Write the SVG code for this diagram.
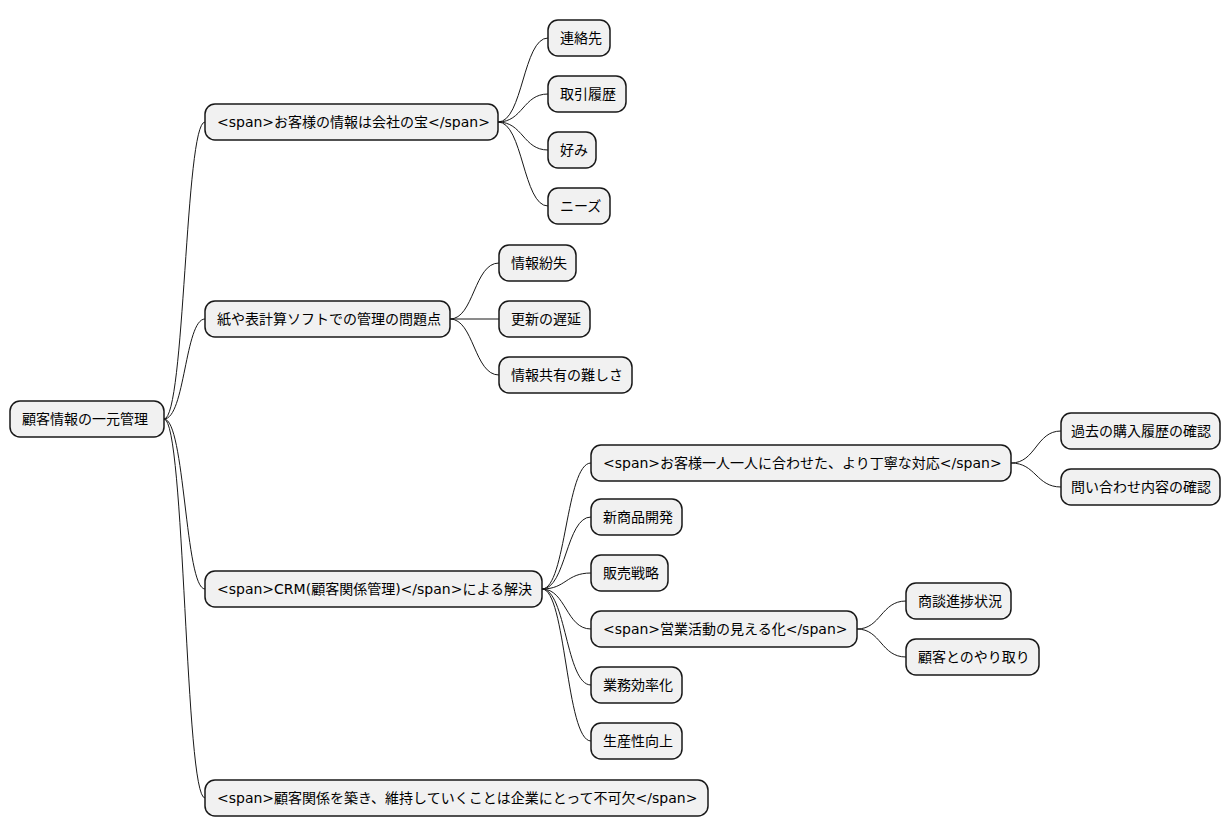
<svg xmlns="http://www.w3.org/2000/svg" width="1231" height="837" viewBox="0 0 1231 837">
<style>
.n rect{fill:#F1F1F1;stroke:#181818;stroke-width:1.5}
.n text{font-family:"DejaVu Sans","Noto Sans CJK JP",sans-serif;font-size:14px;fill:#000}
.c path{fill:none;stroke:#181818;stroke-width:1}
</style>
<rect width="1231" height="837" fill="#fff"/>
<g class="c">
<path d="M164,419 C185,419 185,122 205,122"/>
<path d="M164,419 C185,419 185,319 205,319"/>
<path d="M164,419 C185,419 185,589 205,589"/>
<path d="M164,419 C185,419 185,798 205,798"/>
<path d="M498,122 C523,122 523,38 548,38"/>
<path d="M498,122 C523,122 523,94 548,94"/>
<path d="M498,122 C523,122 523,150 548,150"/>
<path d="M498,122 C523,122 523,206 548,206"/>
<path d="M450,319 C474,319 474,263 499,263"/>
<path d="M450,319 L499,319"/>
<path d="M450,319 C474,319 474,375 499,375"/>
<path d="M542,589 C566,589 566,463 591,463"/>
<path d="M542,589 C566,589 566,517 591,517"/>
<path d="M542,589 C566,589 566,573 591,573"/>
<path d="M542,589 C566,589 566,629 591,629"/>
<path d="M542,589 C566,589 566,685 591,685"/>
<path d="M542,589 C566,589 566,741 591,741"/>
<path d="M1011,463 C1036,463 1036,431 1061,431"/>
<path d="M1011,463 C1036,463 1036,487 1061,487"/>
<path d="M857,629 C881,629 881,601 906,601"/>
<path d="M857,629 C881,629 881,657 906,657"/>
</g>
<g id="root" class="n"><rect x="10" y="401" width="154" height="36" rx="10"/><text x="22" y="424">顧客情報の一元管理</text></g>
<g id="a" class="n"><rect x="205" y="104" width="293" height="36" rx="10"/><text x="217" y="127">&lt;span&gt;お客様の情報は会社の宝&lt;/span&gt;</text></g>
<g id="b" class="n"><rect x="205" y="301" width="245" height="36" rx="10"/><text x="217" y="324">紙や表計算ソフトでの管理の問題点</text></g>
<g id="c" class="n"><rect x="205" y="571" width="337" height="36" rx="10"/><text x="217" y="594">&lt;span&gt;CRM(顧客関係管理)&lt;/span&gt;による解決</text></g>
<g id="d" class="n"><rect x="205" y="780" width="503" height="36" rx="10"/><text x="217" y="803">&lt;span&gt;顧客関係を築き、維持していくことは企業にとって不可欠&lt;/span&gt;</text></g>
<g id="a1" class="n"><rect x="548" y="20" width="62" height="36" rx="10"/><text x="560" y="43">連絡先</text></g>
<g id="a2" class="n"><rect x="548" y="76" width="78" height="36" rx="10"/><text x="560" y="99">取引履歴</text></g>
<g id="a3" class="n"><rect x="548" y="132" width="48" height="36" rx="10"/><text x="560" y="155">好み</text></g>
<g id="a4" class="n"><rect x="548" y="188" width="62" height="36" rx="10"/><text x="560" y="211">ニーズ</text></g>
<g id="b1" class="n"><rect x="499" y="245" width="77" height="36" rx="10"/><text x="511" y="268">情報紛失</text></g>
<g id="b2" class="n"><rect x="499" y="301" width="91" height="36" rx="10"/><text x="511" y="324">更新の遅延</text></g>
<g id="b3" class="n"><rect x="499" y="357" width="133" height="36" rx="10"/><text x="511" y="380">情報共有の難しさ</text></g>
<g id="c1" class="n"><rect x="591" y="445" width="420" height="36" rx="10"/><text x="603" y="468">&lt;span&gt;お客様一人一人に合わせた、より丁寧な対応&lt;/span&gt;</text></g>
<g id="c2" class="n"><rect x="591" y="499" width="91" height="36" rx="10"/><text x="603" y="522">新商品開発</text></g>
<g id="c3" class="n"><rect x="591" y="555" width="77" height="36" rx="10"/><text x="603" y="578">販売戦略</text></g>
<g id="c4" class="n"><rect x="591" y="611" width="266" height="36" rx="10"/><text x="603" y="634">&lt;span&gt;営業活動の見える化&lt;/span&gt;</text></g>
<g id="c5" class="n"><rect x="591" y="667" width="91" height="36" rx="10"/><text x="603" y="690">業務効率化</text></g>
<g id="c6" class="n"><rect x="591" y="723" width="91" height="36" rx="10"/><text x="603" y="746">生産性向上</text></g>
<g id="c11" class="n"><rect x="1061" y="413" width="159" height="36" rx="10"/><text x="1071" y="436">過去の購入履歴の確認</text></g>
<g id="c12" class="n"><rect x="1061" y="469" width="159" height="36" rx="10"/><text x="1071" y="492">問い合わせ内容の確認</text></g>
<g id="c41" class="n"><rect x="906" y="583" width="105" height="36" rx="10"/><text x="918" y="606">商談進捗状況</text></g>
<g id="c42" class="n"><rect x="906" y="639" width="133" height="36" rx="10"/><text x="918" y="662">顧客とのやり取り</text></g>
</svg>
